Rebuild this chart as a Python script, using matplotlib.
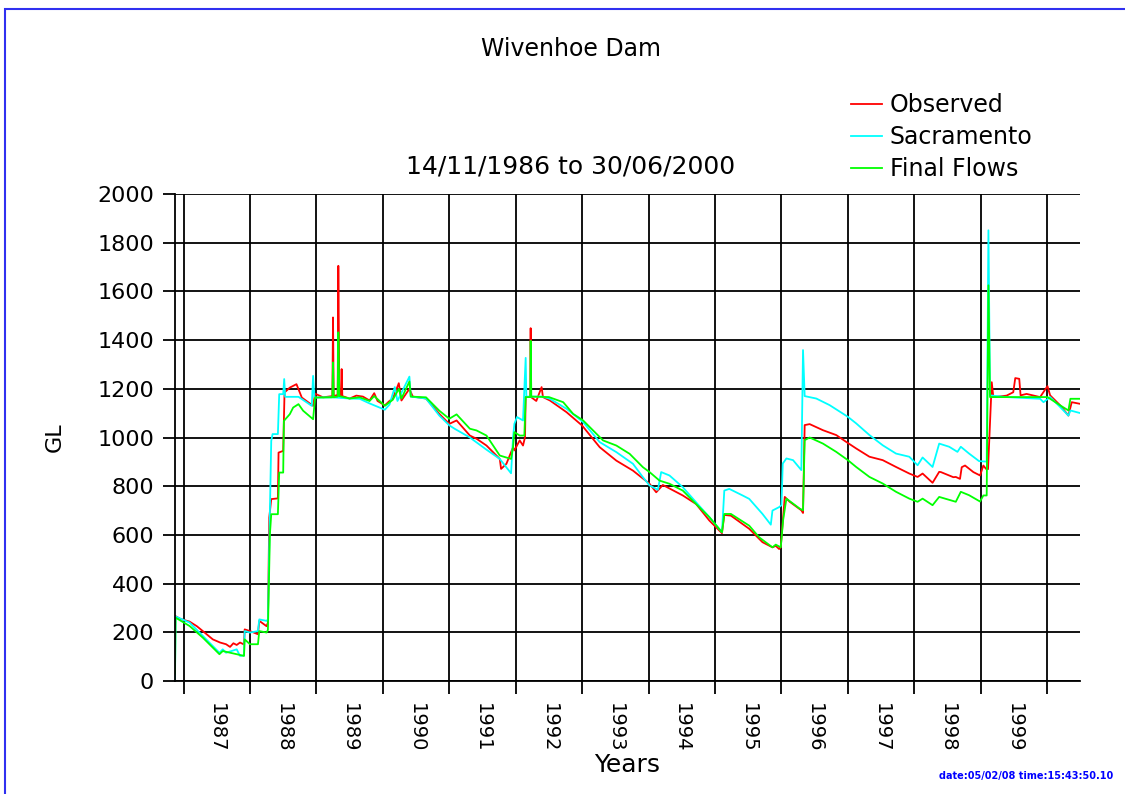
import matplotlib
matplotlib.use('Agg')
import matplotlib.pyplot as plt
from matplotlib.patches import Rectangle

# storage readings (GL), x values are decimal years
obs_t = [1986.875, 1986.95, 1987.09, 1987.20, 1987.29, 1987.44, 1987.55, 1987.64, 1987.70, 1987.75,
         1987.80, 1987.85, 1987.91, 1987.92, 1988.00, 1988.12, 1988.14, 1988.25, 1988.27, 1988.29,
         1988.32, 1988.42, 1988.43, 1988.50, 1988.52, 1988.60, 1988.70, 1988.78, 1988.95, 1988.98,
         1989.10, 1989.24, 1989.25, 1989.26, 1989.32, 1989.33, 1989.345, 1989.37, 1989.38, 1989.39,
         1989.50, 1989.60, 1989.70, 1989.80, 1989.87, 1989.92, 1990.03, 1990.10, 1990.15, 1990.24,
         1990.28, 1990.35, 1990.40, 1990.45, 1990.65, 1990.85, 1991.00, 1991.11, 1991.31, 1991.41,
         1991.56, 1991.76, 1991.78, 1991.86, 1991.96, 1991.98, 1992.06, 1992.11, 1992.14, 1992.15,
         1992.22, 1992.225, 1992.23, 1992.31, 1992.39, 1992.41, 1992.515, 1992.765, 1993.0, 1993.265,
         1993.515, 1993.765, 1994.015, 1994.115, 1994.215, 1994.515, 1994.715, 1994.915, 1995.105, 1995.14,
         1995.24, 1995.515, 1995.715, 1995.865, 1995.915, 1995.965, 1995.99, 1996.05, 1996.125, 1996.30,
         1996.325, 1996.35, 1996.425, 1996.625, 1996.825, 1996.975, 1997.125, 1997.325, 1997.525, 1997.725,
         1997.925, 1998.05, 1998.125, 1998.275, 1998.375, 1998.40, 1998.588, 1998.625, 1998.688, 1998.714,
         1998.764, 1998.889, 1998.99, 1999.04, 1999.08, 1999.11, 1999.166, 1999.19, 1999.39, 1999.49,
         1999.52, 1999.58, 1999.60, 1999.69, 1999.894, 2000.005, 2000.045, 2000.196, 2000.32, 2000.37,
         2000.5]
obs_v = [267, 255, 244, 225, 205, 171, 158, 151, 140, 155,
         148, 158, 150, 212, 205, 192, 247, 225, 240, 671,
         747, 750, 938, 945, 1185, 1205, 1219, 1164, 1130, 1180,
         1165, 1170, 1493, 1170, 1175, 1705, 1180, 1165, 1281, 1170,
         1160, 1172, 1168, 1152, 1182, 1150, 1132, 1150, 1160, 1223,
         1152, 1180, 1200, 1168, 1160, 1097, 1056, 1070, 1008, 995,
         967, 912, 871, 892, 960, 947, 988, 967, 1001, 1166,
         1166, 1449, 1166, 1150, 1207, 1166, 1152, 1104, 1049, 960,
         905, 864, 810, 775, 805, 762, 727, 659, 607, 682,
         679, 625, 570, 549, 555, 542, 550, 756, 736, 701,
         690, 1051, 1055, 1030, 1010, 982, 955, 921, 907, 879,
         852, 838, 852, 814, 859, 858, 837, 838, 830, 878,
         885, 858, 844, 885, 871, 870, 1227, 1166, 1172, 1186,
         1244, 1241, 1173, 1179, 1166, 1211, 1173, 1132, 1090, 1145,
         1138]

sac_t = [1986.871, 1986.88, 1987.09, 1987.29, 1987.54, 1987.59, 1987.64, 1987.80, 1987.85, 1987.91,
         1987.92, 1988.00, 1988.12, 1988.14, 1988.25, 1988.27, 1988.30, 1988.32, 1988.34, 1988.42,
         1988.44, 1988.50, 1988.515, 1988.53, 1988.73, 1988.93, 1988.95, 1988.97, 1989.24, 1989.50,
         1989.65, 1989.80, 1990.03, 1990.10, 1990.18, 1990.22, 1990.40, 1990.42, 1990.65, 1990.85,
         1991.00, 1991.08, 1991.31, 1991.56, 1991.76, 1991.93, 1991.96, 1991.98, 1992.02, 1992.11,
         1992.15, 1992.16, 1992.40, 1992.515, 1992.765, 1993.015, 1993.265, 1993.515, 1993.765, 1993.915,
         1994.015, 1994.14, 1994.19, 1994.315, 1994.515, 1994.715, 1994.915, 1995.105, 1995.14, 1995.215,
         1995.415, 1995.515, 1995.715, 1995.84, 1995.865, 1995.965, 1996.0, 1996.02, 1996.075, 1996.175,
         1996.30, 1996.325, 1996.35, 1996.525, 1996.725, 1997.0, 1997.125, 1997.325, 1997.525, 1997.725,
         1997.925, 1998.05, 1998.125, 1998.275, 1998.375, 1998.525, 1998.65, 1998.70, 1998.825, 1998.975,
         1999.09, 1999.116, 1999.14, 1999.39, 1999.894, 1999.945, 2000.045, 2000.196, 2000.32, 2000.35,
         2000.5]
sac_v = [0, 265, 240, 185, 116, 130, 116, 130, 103, 105,
         205, 199, 205, 253, 247, 253, 700, 986, 1014, 1014,
         1178, 1178, 1240, 1167, 1167, 1130, 1253, 1164, 1165, 1160,
         1159, 1140, 1114, 1135, 1207, 1150, 1250, 1168, 1160, 1090,
         1050, 1036, 1000, 950, 912, 853, 1000, 1056, 1084, 1070,
         1327, 1168, 1168, 1159, 1118, 1063, 981, 940, 892, 837,
         803, 785, 858, 844, 796, 734, 673, 611, 782, 789,
         762, 748, 686, 642, 700, 714, 722, 893, 914, 907,
         866, 1359, 1170, 1160, 1133, 1085, 1058, 1010, 968, 934,
         921, 886, 918, 879, 975, 962, 941, 962, 934, 903,
         901, 1851, 1173, 1166, 1159, 1145, 1166, 1125, 1090, 1111,
         1100]

fin_t = [1986.871, 1986.88, 1987.09, 1987.29, 1987.54, 1987.59, 1987.80, 1987.91, 1987.92, 1988.00,
         1988.12, 1988.14, 1988.25, 1988.27, 1988.30, 1988.32, 1988.42, 1988.44, 1988.50, 1988.51,
         1988.60, 1988.65, 1988.73, 1988.80, 1988.95, 1988.98, 1989.24, 1989.25, 1989.26, 1989.32,
         1989.33, 1989.345, 1989.50, 1989.65, 1989.80, 1989.87, 1990.03, 1990.15, 1990.24, 1990.28,
         1990.40, 1990.42, 1990.65, 1990.85, 1991.00, 1991.11, 1991.31, 1991.41, 1991.56, 1991.76,
         1991.93, 1991.96, 1991.98, 1992.06, 1992.13, 1992.15, 1992.22, 1992.225, 1992.235, 1992.50,
         1992.715, 1992.865, 1993.015, 1993.315, 1993.515, 1993.715, 1993.915, 1994.015, 1994.165, 1994.315,
         1994.515, 1994.715, 1994.915, 1995.105, 1995.14, 1995.24, 1995.515, 1995.665, 1995.865, 1995.915,
         1995.99, 1996.025, 1996.075, 1996.275, 1996.325, 1996.35, 1996.425, 1996.625, 1996.825, 1997.0,
         1997.125, 1997.325, 1997.525, 1997.725, 1997.925, 1998.05, 1998.125, 1998.275, 1998.375, 1998.625,
         1998.70, 1998.825, 1998.99, 1999.04, 1999.09, 1999.116, 1999.14, 1999.894, 2000.005, 2000.196,
         2000.32, 2000.35, 2000.5]
fin_v = [30, 260, 226, 178, 110, 123, 110, 103, 171, 151,
         151, 205, 199, 210, 603, 685, 685, 856, 856, 1068,
         1096, 1123, 1137, 1110, 1075, 1164, 1165, 1308, 1165, 1168,
         1432, 1170, 1160, 1165, 1150, 1170, 1130, 1155, 1200, 1160,
         1230, 1168, 1165, 1110, 1077, 1095, 1036, 1029, 1008, 926,
         912, 960, 1022, 1008, 1008, 1166, 1166, 1397, 1168, 1166,
         1145, 1097, 1070, 988, 967, 933, 878, 858, 823, 810,
         782, 727, 673, 611, 686, 686, 638, 590, 549, 560,
         549, 660, 749, 708, 701, 989, 1000, 975, 941, 907,
         879, 838, 811, 777, 749, 736, 749, 722, 756, 736,
         777, 763, 737, 762, 762, 1625, 1166, 1166, 1166, 1132,
         1111, 1159, 1159]

years = list(range(1987, 2001))
year_labels = [str(y) for y in range(1987, 2000)]
t_start = 1986 + 318 / 365.0   # 14/11/1986
t_end = 2000 + 181 / 366.0     # 30/06/2000

plt.rcParams['font.family'] = ['DejaVu Sans']

fig = plt.figure(figsize=(11.25, 7.94), dpi=100)
ax = fig.add_axes([175 / 1125, 113 / 794, 905 / 1125, 487 / 794])

ax.plot(obs_t, obs_v, color='#ff0000', linewidth=1.3, label='Observed')
ax.plot(sac_t, sac_v, color='#00ffff', linewidth=1.3, label='Sacramento')
ax.plot(fin_t, fin_v, color='#00ff00', linewidth=1.3, label='Final Flows')

ax.set_xlim(t_start, t_end)
ax.set_ylim(0, 2000)
ax.set_yticks(range(0, 2001, 200))
ax.set_xticks(years)
ax.set_xticklabels([])
ax.set_xticks([y + 0.5 for y in range(1987, 2000)], minor=True)
ax.set_xticklabels(year_labels, minor=True, rotation=270, fontsize=14)
ax.tick_params(axis='x', which='major', direction='out', length=9, width=1.3)
ax.tick_params(axis='x', which='minor', length=0, pad=16)
ax.tick_params(axis='y', direction='out', length=9, width=1.3, pad=6, labelsize=16)
ax.grid(True, which='major', color='black', linewidth=1.3)
ax.set_axisbelow(True)
for s in ['top', 'right']:
    ax.spines[s].set_visible(False)
ax.spines['left'].set_linewidth(1.3)
ax.spines['bottom'].set_linewidth(1.3)

ax.set_ylabel('GL', fontsize=16)
ax.yaxis.set_label_coords(-0.1215, 0.5)
ax.set_xlabel('Years', fontsize=18)
ax.xaxis.set_label_coords(0.5, -0.148)

fig.text(571 / 1125, 1 - 49 / 794, 'Wivenhoe Dam', ha='center', va='center', fontsize=17)
fig.text(571 / 1125, 1 - 167 / 794, '14/11/1986 to 30/06/2000', ha='center', va='center', fontsize=18)

ax.legend(loc='upper left', bbox_to_anchor=(851 / 1125, 1 - 93 / 794), bbox_transform=fig.transFigure,
          frameon=False, fontsize=17, handlelength=1.3, handletextpad=0.35, labelspacing=0.34,
          borderpad=0, borderaxespad=0)

fig.text(1113 / 1125, 1 - 776 / 794, 'date:05/02/08 time:15:43:50.10', ha='right', va='center',
         fontsize=7, fontweight='bold', color='blue')

# blue frame, only the left and top edges fall inside the picture
fig.patches.append(Rectangle((5 / 1125, -0.1), 1.2, 1.1 - 9 / 794, transform=fig.transFigure,
                             fill=False, edgecolor='#3030f0', linewidth=1.5))

plt.savefig('out.png', dpi=100)
